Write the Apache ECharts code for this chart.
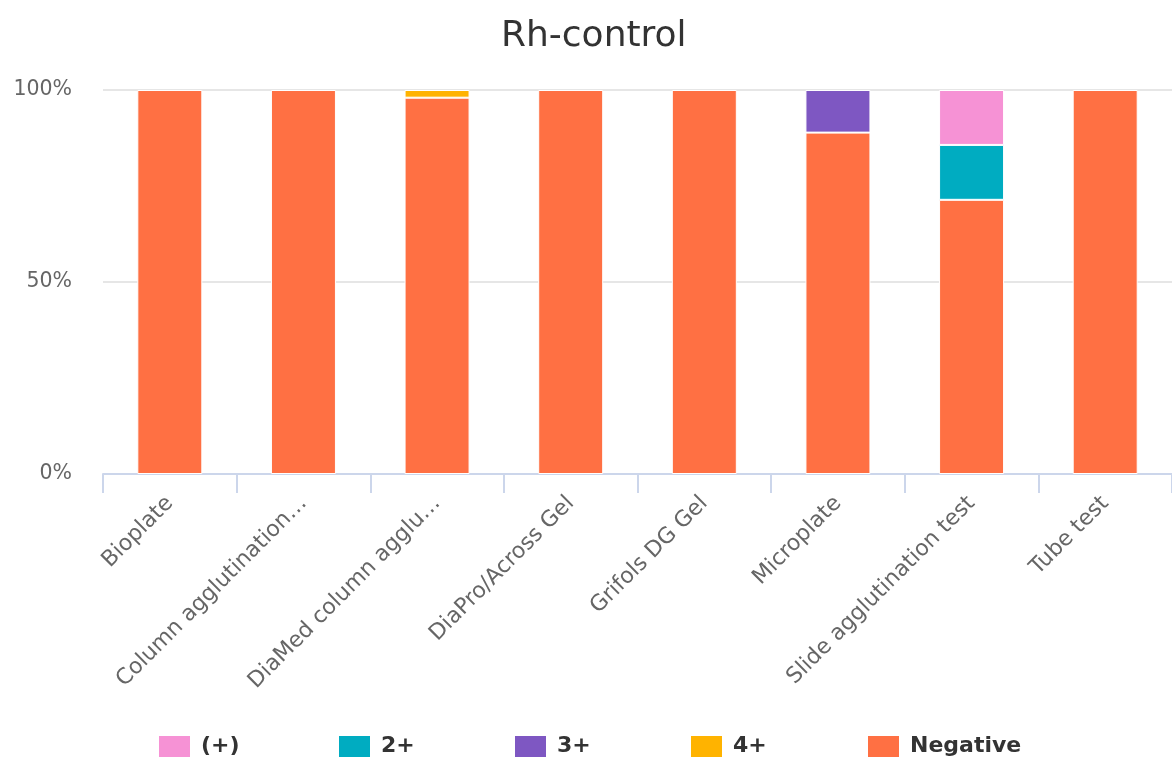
<!DOCTYPE html>
<html>
<head>
<meta charset="utf-8">
<script src="https://cdn.jsdelivr.net/npm/echarts@6/dist/echarts.min.js"></script>
<style>
html,body{margin:0;padding:0;background:#fff;}
#chart{width:1172px;height:765px;}
</style>
</head>
<body>
<div id="chart"></div>
<script>
const categories = ['Bioplate', 'Column agglutination…', 'DiaMed column agglu…', 'DiaPro/Across Gel', 'Grifols DG Gel', 'Microplate', 'Slide agglutination test', 'Tube test'];
const seriesNames = ['(+)', '2+', '3+', '4+', 'Negative'];
const negative = [100, 100, 98, 100, 100, 88.9, 71.4, 100];
const fourPlus = [0, 0, 2, 0, 0, 0, 0, 0];
const threePlus = [0, 0, 0, 0, 0, 11.1, 0, 0];
const twoPlus = [0, 0, 0, 0, 0, 0, 14.3, 0];
const weakPlus = [0, 0, 0, 0, 0, 0, 14.3, 0];
const yTicks = [0, 50, 100];

const colors = {'(+)': '#F692D5', '2+': '#00ACC1', '3+': '#7E57C2', '4+': '#FFB300', 'Negative': '#FF7043'};
const legendLeft = [157, 337, 513, 689, 866];
const font = 'DejaVu Sans';

function mk(name, arr) {
  return {
    name: name, type: 'bar', stack: 'total', barWidth: 65,
    data: arr.map(v => v === 0 ? null : v),
    itemStyle: {color: colors[name], borderColor: '#ffffff', borderWidth: 1}
  };
}

const legends = seriesNames.map((n, i) => ({
  data: [n], bottom: 6, left: legendLeft[i], padding: 0, itemWidth: 33, itemHeight: 23, icon: 'rect',
  textStyle: {fontFamily: font, fontSize: 22, fontWeight: 'bold', color: '#333333', padding: [0, 0, 0, 5]}
}));

const chart = echarts.init(document.getElementById('chart'), null, {renderer: 'canvas'});
chart.setOption({
  animation: false,
  title: {
    text: 'Rh-control', left: 496, top: 14,
    textStyle: {fontFamily: font, fontSize: 36, fontWeight: 'normal', color: '#333333'}
  },
  legend: legends,
  grid: {left: 103, right: 0, top: 90, bottom: 291, containLabel: false},
  xAxis: {
    type: 'category', data: categories,
    axisLine: {show: true, lineStyle: {color: '#ccd6eb', width: 2}},
    axisTick: {show: true, alignWithLabel: false, length: 19, lineStyle: {color: '#ccd6eb', width: 2}},
    axisLabel: {rotate: 45, margin: 26, fontFamily: font, fontSize: 22, color: '#666666', interval: 0}
  },
  yAxis: {
    type: 'value', min: yTicks[0], max: yTicks[yTicks.length - 1], interval: 50,
    axisLine: {show: false}, axisTick: {show: false},
    axisLabel: {formatter: '{value}%', margin: 31, fontFamily: font, fontSize: 20.5, color: '#666666'},
    splitLine: {lineStyle: {color: '#e6e6e6', width: 2}}
  },
  series: [
    mk('Negative', negative),
    mk('4+', fourPlus),
    mk('3+', threePlus),
    mk('2+', twoPlus),
    mk('(+)', weakPlus)
  ]
});
</script>
</body>
</html>
